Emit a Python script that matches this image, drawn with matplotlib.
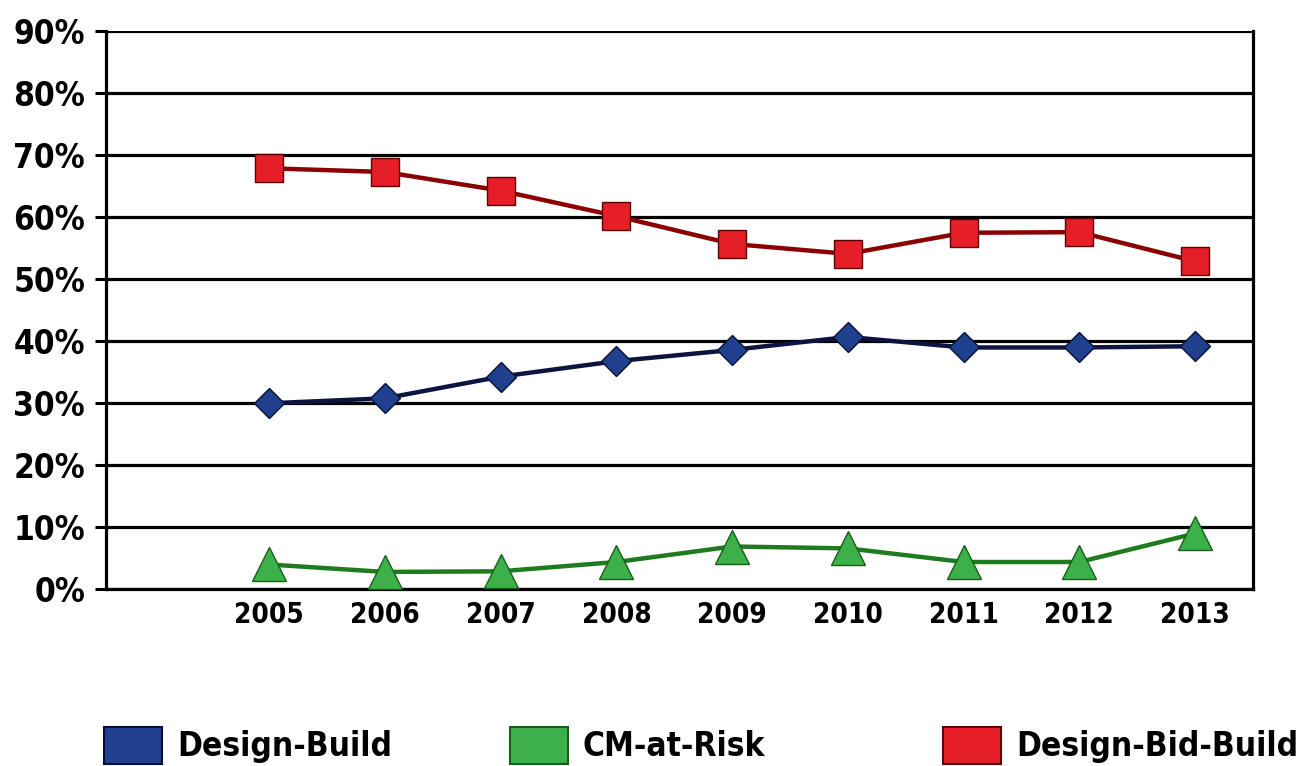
import numpy as np
import matplotlib.pyplot as plt
from matplotlib.patches import Patch

plt.rcParams['font.family'] = ['DejaVu Sans']
plt.rcParams['font.weight'] = 'bold'
plt.rcParams['font.stretch'] = 'condensed'

years = [2005, 2006, 2007, 2008, 2009, 2010, 2011, 2012, 2013]
design_build = [29.9, 30.7, 34.2, 36.7, 38.5, 40.6, 38.9, 38.9, 39.1]
cm_at_risk = [3.9, 2.7, 2.8, 4.3, 6.8, 6.5, 4.3, 4.3, 8.9]
design_bid_build = [67.8, 67.2, 64.2, 60.1, 55.6, 54.0, 57.4, 57.5, 52.8]

yticks = np.arange(0, 91, 10)

fig = plt.figure(figsize=(13, 7.66), dpi=100)
ax = fig.add_axes([0.0815, 0.2315, 0.8823, 0.7285])

for y in yticks:
    ax.axhline(y, color='black', lw=2.3, zorder=1)

ax.plot(years, design_bid_build, color='#8b0000', lw=3.2, marker='s', ms=19.5,
        mfc='#e61e28', mec='#5a0000', mew=1.0, zorder=3)
ax.plot(years, design_build, color='#0d1440', lw=3.2, marker='D', ms=15.5,
        mfc='#1f3f8f', mec='#0a1030', mew=1.0, zorder=3)
ax.plot(years, cm_at_risk, color='#1e7b1e', lw=3.2, marker='^', ms=25,
        mfc='#3cb14a', mec='#1a5e1a', mew=1.0, zorder=3)

ax.set_xlim(2005 - 1.41, 2013 + 0.5)
ax.set_ylim(0, 90)
ax.set_xticks(years)
ax.set_xticklabels([str(y) for y in years], fontsize=20, fontweight='bold')
ax.set_yticks(yticks)
ax.set_yticklabels([f'{v}%' for v in yticks], fontsize=24, fontweight='bold')
ax.tick_params(axis='y', length=8, width=2.2, pad=7)
ax.tick_params(axis='x', length=0, pad=9)

ax.spines['top'].set_visible(False)
for s in ['left', 'right', 'bottom']:
    ax.spines[s].set_linewidth(2.3)

# legend entries, spaced like the original
entries = [('Design-Build', '#1f3f8f', '#0a1030', 0.080),
           ('CM-at-Risk', '#3cb14a', '#1a5e1a', 0.392),
           ('Design-Bid-Build', '#e61e28', '#5a0000', 0.725)]
for label, fc, ec, x in entries:
    fig.legend(handles=[Patch(facecolor=fc, edgecolor=ec, lw=1.5, label=label)],
               loc='center left', bbox_to_anchor=(x, 0.027), frameon=False,
               prop={'size': 24, 'weight': 'bold', 'stretch': 'condensed'},
               handlelength=1.75, handleheight=1.35, handletextpad=0.45,
               borderpad=0, borderaxespad=0)

fig.savefig('out.png', dpi=100)
